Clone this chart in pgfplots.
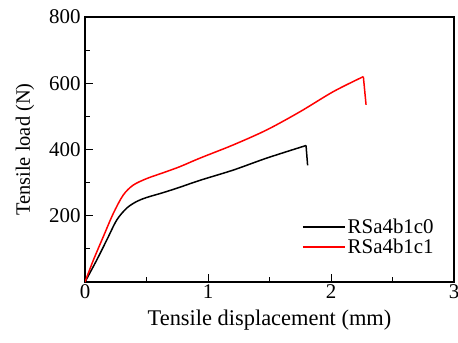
\documentclass[border=0pt]{standalone}
\usepackage{pgfplots}
\pgfplotsset{compat=1.18}
\usepackage{fontspec}
\setmainfont{Liberation Serif}
\begin{document}
\begin{tikzpicture}
\begin{axis}[
  at={(0,0)}, anchor=south west,
  scale only axis, width=369bp, height=265bp,
  xmin=0, xmax=3, ymin=0, ymax=800,
  xtick={0,1,2,3}, ytick={200,400,600,800},
  minor xtick={0.5,1.5,2.5}, minor ytick={100,300,500,700},
  tick align=inside, xtick pos=bottom, ytick pos=left,
  major tick length=8bp, minor tick length=5bp,
  every tick/.style={black, line width=1pt},
  axis line style={line width=1.4pt},
  /pgf/number format/assume math mode=true,
  tick label style={font=\fontsize{21}{24}\selectfont},
  xticklabel style={yshift=1bp},
  yticklabel style={xshift=-1bp},
  xlabel={Tensile displacement (mm)},
  ylabel={Tensile load (N)},
  xlabel style={font=\fontsize{22.5}{26}\selectfont, yshift=-4bp},
  ylabel style={font=\fontsize{20.5}{24}\selectfont, yshift=8bp},
  legend style={draw=none, fill=none, at={(0.58,0.17)}, anchor=west,
    font=\fontsize{21}{22}\selectfont, row sep=0bp,
    legend cell align=left},
  legend image code/.code={\draw[#1] (0bp,0bp) -- (42bp,0bp);},
]
\addplot[black, line width=1.5pt, smooth] coordinates {
(0,0) (0.095,66) (0.176,126) (0.258,187) (0.339,223) (0.42,243) (0.50,255) (0.637,270) (0.77,286) (0.935,307) (1.206,338) (1.477,374) (1.797,412)};
\addlegendentry{RSa4b1c0}
\addplot[black, line width=1.5pt, forget plot] coordinates {(1.797,412) (1.81,352)};
\addplot[red, line width=1.5pt, smooth] coordinates {
(0,0) (0.068,66) (0.149,137) (0.23,207) (0.31,262) (0.39,292) (0.50,312) (0.637,330) (0.77,348) (0.935,374) (1.206,414) (1.477,459) (1.748,514) (2.02,575) (2.263,620)};
\addlegendentry{RSa4b1c1}
\addplot[red, line width=1.5pt, forget plot] coordinates {(2.263,620) (2.285,535)};
\end{axis}
\pgfresetboundingbox
\path (-85bp,-61bp) rectangle (373bp,282bp);
\end{tikzpicture}
\end{document}
